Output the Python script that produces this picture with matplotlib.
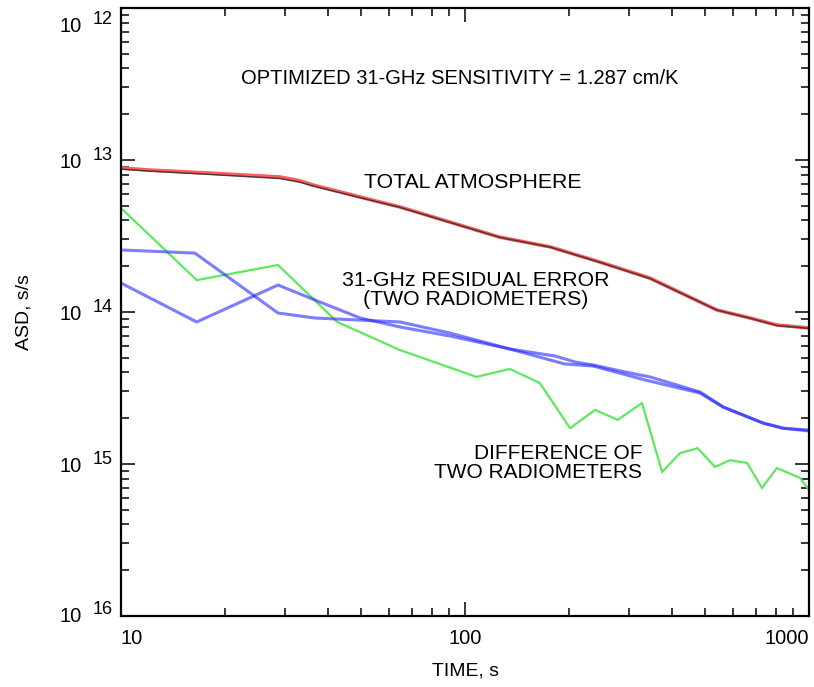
import matplotlib
matplotlib.use('Agg')
import matplotlib.pyplot as plt
import matplotlib.transforms as mtransforms
from matplotlib.ticker import LogLocator, NullFormatter

plt.rcParams['font.family'] = ['Liberation Sans', 'DejaVu Sans']

# total atmosphere (two nearly identical traces)
tau_atm = [10, 12.1, 17.9, 29.0, 33.1, 36.1, 56.6, 64.7, 126, 177, 247, 345, 540, 674, 807, 1000]
asd_atm_red = [8.86e-14, 8.59e-14, 8.21e-14, 7.73e-14, 7.30e-14, 6.85e-14, 5.29e-14, 4.91e-14,
               3.11e-14, 2.68e-14, 2.13e-14, 1.67e-14, 1.03e-14, 9.13e-15, 8.21e-15, 7.85e-15]
asd_atm_dark = [8.70e-14, 8.45e-14, 8.05e-14, 7.55e-14, 7.15e-14, 6.75e-14, 5.25e-14, 4.88e-14,
                3.10e-14, 2.67e-14, 2.12e-14, 1.66e-14, 1.03e-14, 9.10e-15, 8.15e-15, 7.80e-15]

# 31-GHz residual error, two radiometers
tau_res1 = [10, 16.4, 28.6, 36.6, 64.7, 90.4, 135, 183, 209, 236, 292, 345, 482, 563, 735, 840, 1000]
asd_res1 = [2.56e-14, 2.44e-14, 9.85e-15, 9.13e-15, 8.60e-15, 7.27e-15, 5.71e-15, 5.13e-15, 4.69e-15,
            4.48e-15, 4.03e-15, 3.74e-15, 2.98e-15, 2.37e-15, 1.86e-15, 1.72e-15, 1.67e-15]
tau_res2 = [10, 16.6, 28.6, 36.6, 49.6, 64.7, 90.4, 135, 195, 236, 334, 482, 563, 735, 840, 1000]
asd_res2 = [1.55e-14, 8.60e-15, 1.505e-14, 1.20e-14, 9.13e-15, 7.97e-15, 6.95e-15, 5.71e-15,
            4.55e-15, 4.41e-15, 3.57e-15, 2.93e-15, 2.37e-15, 1.86e-15, 1.72e-15, 1.65e-15]

# difference of two radiometers
tau_diff = [10, 16.6, 28.6, 42.5, 64.7, 108, 135, 165, 202, 239, 278, 327, 374, 422, 475, 533,
            589, 661, 730, 807, 942, 1000]
asd_diff = [4.83e-14, 1.62e-14, 2.04e-14, 8.60e-15, 5.62e-15, 3.74e-15, 4.22e-15, 3.41e-15,
            1.72e-15, 2.27e-15, 1.95e-15, 2.52e-15, 8.86e-16, 1.18e-15, 1.27e-15, 9.56e-16,
            1.06e-15, 1.015e-15, 6.95e-16, 9.41e-16, 8.09e-16, 6.75e-16]

xticks = [10, 100, 1000]
xtick_labels = ['10', '100', '1000']
yexps = [12, 13, 14, 15, 16]

fig = plt.figure(figsize=(8.14, 6.87), dpi=100)
ax = fig.add_axes([121 / 814, 1 - 616 / 687, 688 / 814, 608 / 687])

ax.plot(tau_diff, asd_diff, color='#5ee85e', lw=1.6)
ax.plot(tau_res1, asd_res1, color='#2626ff', lw=2.2, alpha=0.6)
ax.plot(tau_res2, asd_res2, color='#2626ff', lw=2.2, alpha=0.6)
ax.plot(tau_atm, asd_atm_red, color='#ff5c5c', lw=2.6)
ax.plot(tau_atm, asd_atm_dark, color='#2a2a2a', lw=1.1, alpha=0.8)

ax.set_xscale('log')
ax.set_yscale('log')
ax.set_xlim(10, 1000)
ax.set_ylim(1e-16, 1e-12)

ax.set_xticks(xticks)
ax.set_xticklabels(xtick_labels, fontsize=14.5)
for lab, ha in zip(ax.get_xticklabels(), ['left', 'center', 'right']):
    lab.set_ha(ha)
ax.xaxis.set_minor_locator(LogLocator(base=10, subs=range(2, 10)))
ax.xaxis.set_minor_formatter(NullFormatter())

ax.set_yticks([10.0 ** -e for e in yexps])
ax.set_yticklabels([])
ax.yaxis.set_minor_locator(LogLocator(base=10, subs=range(2, 10)))
ax.yaxis.set_minor_formatter(NullFormatter())

ax.tick_params(which='both', direction='in', top=True, right=True, width=1.1, colors='black')
ax.tick_params(which='major', length=10, pad=9)
ax.tick_params(which='minor', length=5.5)
for sp in ax.spines.values():
    sp.set_linewidth(1.6)

trans = mtransforms.blended_transform_factory(ax.transAxes, ax.transData)
for e in yexps:
    shift = -11 if e == 12 else (2 if e == 16 else 0)
    ax.annotate('10', xy=(0, 10.0 ** -e), xycoords=trans, xytext=(-28, -2 + shift),
                textcoords='offset points', ha='right', va='center', fontsize=14.5)
    ax.annotate(str(e), xy=(0, 10.0 ** -e), xycoords=trans, xytext=(-6, 3 + shift),
                textcoords='offset points', ha='right', va='center', fontsize=13)

ax.set_xlabel('TIME, s', fontsize=14, labelpad=11)
ax.set_ylabel('ASD, s/s', fontsize=14)
ax.yaxis.set_label_coords(-0.128, 0.5)

ax.text(96.7, 3.46e-13, 'OPTIMIZED 31-GHz SENSITIVITY = 1.287 cm/K', fontsize=14.5,
        ha='center', va='center')
ax.text(105.5, 7.06e-14, 'TOTAL ATMOSPHERE', fontsize=15.3, ha='center', va='center')
ax.text(107.6, 1.40e-14, '31-GHz RESIDUAL ERROR\n(TWO RADIOMETERS)', fontsize=15.3,
        ha='center', va='center', linespacing=1.0)
ax.text(327, 1.016e-15, 'DIFFERENCE OF\nTWO RADIOMETERS', fontsize=15,
        ha='right', va='center', multialignment='right', linespacing=1.0)

fig.savefig('out.png', dpi=100)
